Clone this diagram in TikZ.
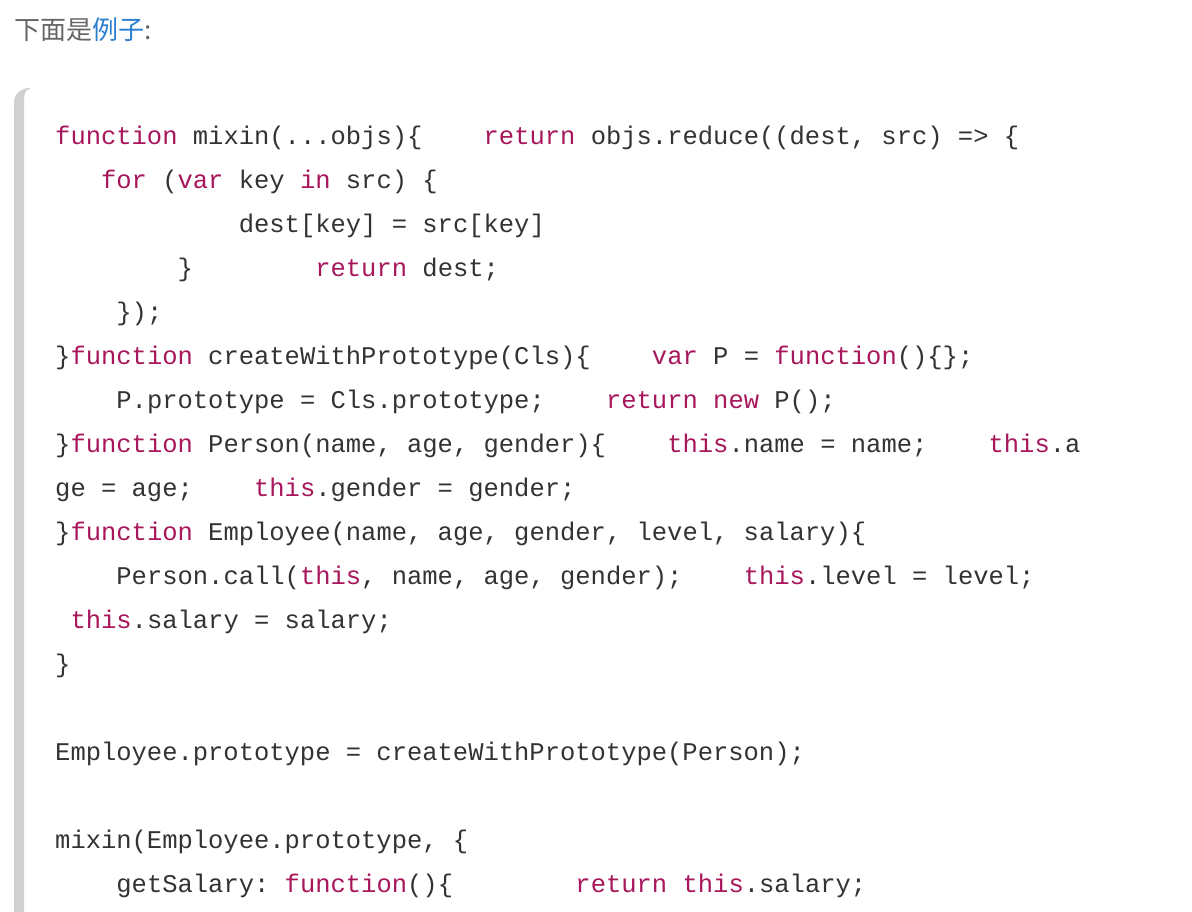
\documentclass[tikz,border=0pt]{standalone}
\usepackage{fontspec}
\setmonofont{Liberation Mono}
\newfontfamily\cjk{Noto Sans CJK SC}
\definecolor{kw}{HTML}{A8175C}
\definecolor{txt}{HTML}{333333}
\definecolor{ttl}{HTML}{666666}
\definecolor{lnk}{HTML}{2B7FD0}
\definecolor{bar}{HTML}{D0D0D0}
\newcommand\K[1]{\textcolor{kw}{#1}}
\tikzset{code/.style={anchor=base west,inner sep=0pt,font=\ttfamily\fontsize{25.5pt}{30pt}\selectfont,text=txt}}
\begin{document}
\begin{tikzpicture}[x=1pt,y=1pt]
\useasboundingbox (0,0) rectangle (1192,912);
\fill[white] (0,0) rectangle (1192,912);
\node[anchor=base west,inner sep=0pt,font=\cjk\fontsize{26pt}{30pt}\selectfont,text=ttl] (title) at (14,872) {下面是\textcolor{lnk}{例子}:};
\fill[bar] (14,0) -- (14,810) to[out=90,in=180] (30,824) -- (30,823) to[out=180,in=90] (24,808) -- (24,0) -- cycle;
\node[code] (l1) at (55,767) {\K{function}~mixin(...objs)\{~~~~\K{return}~objs.reduce((dest,~src)~=>~\{};
\node[code] (l2) at (55,723) {~~~\K{for}~(\K{var}~key~\K{in}~src)~\{};
\node[code] (l3) at (55,679) {~~~~~~~~~~~~dest[key]~=~src[key]};
\node[code] (l4) at (55,635) {~~~~~~~~\}~~~~~~~~\K{return}~dest;};
\node[code] (l5) at (55,591) {~~~~\});};
\node[code] (l6) at (55,547) {\}\K{function}~createWithPrototype(Cls)\{~~~~\K{var}~P~=~\K{function}()\{\};};
\node[code] (l7) at (55,503) {~~~~P.prototype~=~Cls.prototype;~~~~\K{return}~\K{new}~P();};
\node[code] (l8) at (55,459) {\}\K{function}~Person(name,~age,~gender)\{~~~~\K{this}.name~=~name;~~~~\K{this}.a};
\node[code] (l9) at (55,415) {ge~=~age;~~~~\K{this}.gender~=~gender;};
\node[code] (l10) at (55,371) {\}\K{function}~Employee(name,~age,~gender,~level,~salary)\{};
\node[code] (l11) at (55,327) {~~~~Person.call(\K{this},~name,~age,~gender);~~~~\K{this}.level~=~level;};
\node[code] (l12) at (55,283) {~\K{this}.salary~=~salary;};
\node[code] (l13) at (55,239) {\}};
\node[code] (l15) at (55,151) {Employee.prototype~=~createWithPrototype(Person);};
\node[code] (l17) at (55,63) {mixin(Employee.prototype,~\{};
\node[code] (l18) at (55,19) {~~~~getSalary:~\K{function}()\{~~~~~~~~\K{return}~\K{this}.salary;};
\end{tikzpicture}
\end{document}
